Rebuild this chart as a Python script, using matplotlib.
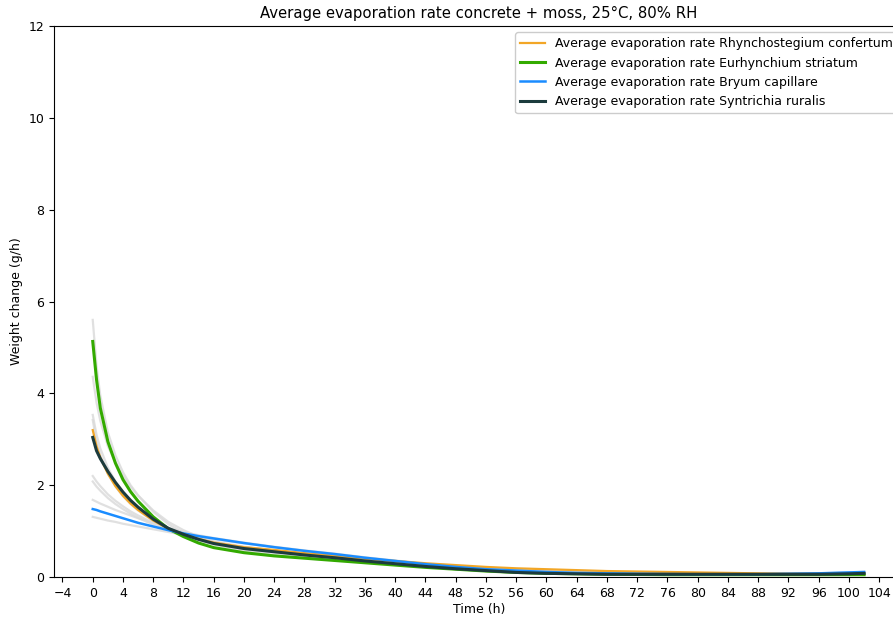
import numpy as np
import matplotlib
matplotlib.use("Agg")
import matplotlib.pyplot as plt

# Time points (h)
time_h = [0, 0.5, 1, 2, 3, 4, 5, 6, 8, 10, 12, 14, 16, 20, 24, 28, 32, 36, 40,
          44, 48, 52, 56, 60, 64, 68, 72, 76, 80, 84, 88, 92, 96, 100, 102]

# Average curves (g/h)
rhynchostegium = [3.20, 2.85, 2.60, 2.25, 1.98, 1.77, 1.60, 1.46, 1.23, 1.05, 0.93, 0.83, 0.75,
                  0.65, 0.59, 0.52, 0.46, 0.40, 0.35, 0.30, 0.26, 0.22, 0.19, 0.17, 0.15, 0.13,
                  0.12, 0.11, 0.10, 0.09, 0.08, 0.07, 0.07, 0.07, 0.07]
eurhynchium = [5.13, 4.30, 3.68, 2.95, 2.48, 2.12, 1.86, 1.65, 1.31, 1.05, 0.88, 0.74, 0.64,
               0.53, 0.46, 0.41, 0.36, 0.31, 0.26, 0.21, 0.17, 0.13, 0.10, 0.08, 0.07, 0.06,
               0.055, 0.05, 0.05, 0.05, 0.05, 0.05, 0.05, 0.05, 0.05]
bryum = [1.48, 1.46, 1.43, 1.38, 1.33, 1.28, 1.23, 1.18, 1.10, 1.02, 0.95, 0.89, 0.84,
         0.74, 0.65, 0.57, 0.50, 0.42, 0.35, 0.28, 0.22, 0.17, 0.14, 0.11, 0.09, 0.08,
         0.07, 0.065, 0.06, 0.06, 0.06, 0.07, 0.08, 0.10, 0.11]
syntrichia = [3.04, 2.75, 2.58, 2.30, 2.06, 1.85, 1.67, 1.52, 1.26, 1.06, 0.93, 0.82, 0.73,
              0.62, 0.55, 0.48, 0.42, 0.35, 0.29, 0.23, 0.18, 0.14, 0.10, 0.08, 0.07, 0.06,
              0.06, 0.06, 0.06, 0.06, 0.06, 0.06, 0.06, 0.07, 0.08]

# Individual replicate curves (light grey)
rep_1 = [5.60, 4.60, 3.95, 3.15, 2.65, 2.28, 2.00, 1.78, 1.42, 1.15, 0.96, 0.82, 0.71,
         0.57, 0.48, 0.42, 0.37, 0.32, 0.27, 0.22, 0.18, 0.14, 0.11, 0.09, 0.07, 0.06,
         0.05, 0.05, 0.05, 0.05, 0.05, 0.05, 0.05, 0.05, 0.05]
rep_2 = [4.36, 3.80, 3.40, 2.85, 2.50, 2.20, 1.97, 1.77, 1.45, 1.20, 1.02, 0.88, 0.77,
         0.63, 0.54, 0.47, 0.41, 0.35, 0.29, 0.24, 0.19, 0.15, 0.12, 0.10, 0.08, 0.07,
         0.06, 0.06, 0.06, 0.06, 0.06, 0.06, 0.06, 0.07, 0.07]
rep_3 = [3.53, 3.10, 2.80, 2.38, 2.08, 1.85, 1.66, 1.50, 1.25, 1.06, 0.92, 0.82, 0.74,
         0.63, 0.56, 0.49, 0.43, 0.37, 0.32, 0.27, 0.22, 0.18, 0.15, 0.13, 0.11, 0.10,
         0.09, 0.08, 0.08, 0.07, 0.07, 0.07, 0.07, 0.07, 0.07]
rep_4 = [3.42, 2.95, 2.65, 2.25, 1.97, 1.76, 1.59, 1.45, 1.22, 1.04, 0.90, 0.80, 0.71,
         0.60, 0.53, 0.46, 0.40, 0.34, 0.28, 0.23, 0.18, 0.14, 0.11, 0.09, 0.08, 0.07,
         0.06, 0.06, 0.06, 0.06, 0.06, 0.06, 0.06, 0.07, 0.08]
rep_5 = [2.20, 2.08, 1.98, 1.80, 1.66, 1.54, 1.43, 1.34, 1.18, 1.05, 0.94, 0.85, 0.77,
         0.66, 0.58, 0.51, 0.45, 0.39, 0.33, 0.28, 0.23, 0.19, 0.16, 0.14, 0.12, 0.11,
         0.10, 0.09, 0.08, 0.08, 0.07, 0.07, 0.07, 0.07, 0.07]
rep_6 = [2.08, 1.97, 1.88, 1.72, 1.59, 1.48, 1.38, 1.29, 1.14, 1.02, 0.92, 0.83, 0.76,
         0.65, 0.57, 0.50, 0.44, 0.38, 0.32, 0.26, 0.21, 0.17, 0.13, 0.11, 0.09, 0.08,
         0.07, 0.07, 0.06, 0.06, 0.06, 0.06, 0.07, 0.08, 0.09]
rep_7 = [1.68, 1.64, 1.60, 1.53, 1.46, 1.40, 1.34, 1.28, 1.17, 1.07, 0.98, 0.91, 0.85,
         0.75, 0.66, 0.58, 0.51, 0.43, 0.36, 0.29, 0.23, 0.18, 0.14, 0.11, 0.09, 0.08,
         0.07, 0.07, 0.06, 0.06, 0.06, 0.07, 0.08, 0.10, 0.11]
rep_8 = [1.31, 1.29, 1.27, 1.23, 1.20, 1.16, 1.13, 1.10, 1.04, 0.98, 0.92, 0.87, 0.82,
         0.73, 0.65, 0.57, 0.49, 0.42, 0.35, 0.28, 0.22, 0.17, 0.13, 0.11, 0.09, 0.08,
         0.07, 0.06, 0.06, 0.06, 0.06, 0.07, 0.08, 0.09, 0.10]
replicates = [rep_1, rep_2, rep_3, rep_4, rep_5, rep_6, rep_7, rep_8]

x_ticks = list(range(-4, 105, 4))
y_ticks = list(range(0, 13, 2))

fig = plt.figure(figsize=(8.93, 6.17), dpi=100)
ax = fig.add_axes([0.0605, 0.0648, 0.952, 0.893])

for rep in replicates:
    ax.plot(time_h, rep, color="#d9d9d9", lw=1.6, alpha=0.8, zorder=1)

ax.plot(time_h, rhynchostegium, color="#f2a626", lw=1.6, zorder=3,
        label="Average evaporation rate Rhynchostegium confertum")
ax.plot(time_h, eurhynchium, color="#33aa00", lw=2.2, zorder=3,
        label="Average evaporation rate Eurhynchium striatum")
ax.plot(time_h, bryum, color="#1a8cff", lw=1.8, zorder=4,
        label="Average evaporation rate Bryum capillare")
ax.plot(time_h, syntrichia, color="#1c3b3d", lw=2.2, zorder=5,
        label="Average evaporation rate Syntrichia ruralis")

ax.set_xlim(-5.12, 107.3)
ax.set_ylim(0, 12)
ax.set_xticks(x_ticks)
ax.set_yticks(y_ticks)
ax.tick_params(labelsize=9)

ax.set_xlabel("Time (h)", fontsize=9, labelpad=2)
ax.set_ylabel("Weight change (g/h)", fontsize=9)
ax.set_title("Average evaporation rate concrete + moss, 25°C, 80% RH", fontsize=10.7, pad=6)

ax.legend(loc="upper right", fontsize=9, borderaxespad=0.5, handlelength=2.0, framealpha=1)

plt.savefig("out.png", dpi=100)
